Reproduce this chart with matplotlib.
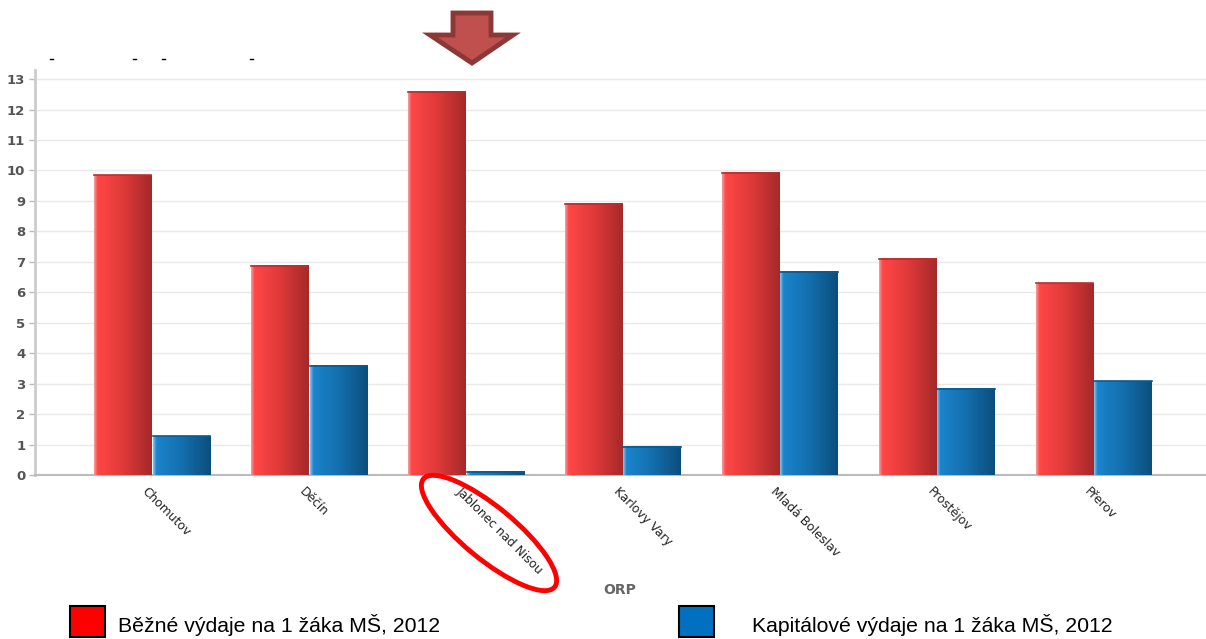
import numpy as np
import matplotlib
matplotlib.use("Agg")
import matplotlib.pyplot as plt
from matplotlib.colors import LinearSegmentedColormap
from matplotlib.patches import Ellipse, Polygon, Rectangle
from matplotlib.transforms import Affine2D, ScaledTranslation

categories = ["Chomutov", "Děčín", "Jablonec nad Nisou", "Karlovy Vary",
              "Mladá Boleslav", "Prostějov", "Přerov"]
bezne = [9.85, 6.87, 12.58, 8.9, 9.92, 7.1, 6.3]
kapitalove = [1.28, 3.58, 0.1, 0.92, 6.67, 2.83, 3.08]
yticks = list(range(0, 14))
legend_labels = ["Běžné výdaje na 1 žáka MŠ, 2012", "Kapitálové výdaje na 1 žáka MŠ, 2012"]
xlabel = "ORP"

fig = plt.figure(figsize=(12.06, 6.39), dpi=100)
ax = fig.add_axes([35/1206, 1-475/639, 1-35/1206, (475-70)/639])

x = np.arange(len(categories))
w = 0.375
red_cmap = LinearSegmentedColormap.from_list("r", [(0, "#f5a0a0"), (0.06, "#ff4747"), (0.5, "#e03939"), (1, "#a52929")])
blue_cmap = LinearSegmentedColormap.from_list("b", [(0, "#8cc2ea"), (0.06, "#1b84cc"), (0.5, "#136fae"), (1, "#0b4e7c")])
grad = np.linspace(0, 1, 256).reshape(1, -1)

b1 = ax.bar(x - w/2, bezne, w, color="none", edgecolor="none", zorder=3)
b2 = ax.bar(x + w/2, kapitalove, w, color="none", edgecolor="none", zorder=3)
for bars, cmap, topc in ((b1, red_cmap, "#b83030"), (b2, blue_cmap, "#0c5a8c")):
    for r in bars:
        x0, x1 = r.get_x(), r.get_x() + r.get_width()
        h = r.get_height()
        ax.imshow(grad, cmap=cmap, extent=[x0 + 0.004, x1 - 0.004, 0, h], aspect="auto",
                  zorder=3, interpolation="bilinear")
        ax.plot([x0 + 0.004, x1 - 0.004], [h, h], color=topc, lw=1.2, zorder=4)

ax.set_xlim(-0.745, 6.715)
ax.set_ylim(0, 13.3)
ax.set_yticks(yticks)
ax.set_yticklabels([str(t) for t in yticks], fontsize=9.5, fontweight="bold", color="#555555")
ax.yaxis.grid(True, color="#e9e9e9", lw=1, zorder=0)
ax.set_axisbelow(True)
ax.tick_params(axis="y", length=4, width=1, color="#bbbbbb", pad=3)
ax.set_xticks(x)
ax.set_xticklabels(categories, rotation=-45, ha="left", va="top", rotation_mode="anchor",
                   fontsize=8.8, color="#222222")
ax.tick_params(axis="x", length=0, pad=7)
for lab in ax.get_xticklabels():
    lab.set_transform(lab.get_transform() + ScaledTranslation(-0.03, 0, fig.dpi_scale_trans))
for s in ("top", "right"):
    ax.spines[s].set_visible(False)
ax.spines["left"].set_color("#cccccc")
ax.spines["left"].set_linewidth(2)
ax.spines["bottom"].set_color("#bbbbbb")
ax.spines["bottom"].set_linewidth(1.5)

fig.text(620/1206, 1-590/639, xlabel, fontsize=10, fontweight="bold", color="#666666",
         ha="center", va="center")

# legend
for px, lab, col, tx in ((70, legend_labels[0], "#ff0000", 118), (679, legend_labels[1], "#0070c0", 752)):
    fig.patches.append(Rectangle((px/1206, 1-637/639), 35/1206, 31/639, transform=fig.transFigure,
                                 facecolor=col, edgecolor="black", lw=1.5))
    fig.text(tx/1206, 1-625/639, lab, fontsize=15.3, family="Liberation Sans", color="black",
             ha="left", va="center")

# arrow
pts = [(453, 13), (491, 13), (491, 35), (513, 35), (472, 63), (430, 35), (453, 35)]
fig.patches.append(Polygon([(px/1206, 1-py/639) for px, py in pts], closed=True,
                           transform=fig.transFigure, facecolor="#c0504d", edgecolor="#8c3836", lw=3.5,
                           joinstyle="miter"))

# ellipse
e = Ellipse((489, 639-533), 170, 52, angle=-39.5, fill=False, edgecolor="#ff0000", lw=3.5,
            transform=Affine2D().scale(1/1206, 1/639) + fig.transFigure)
fig.patches.append(e)

# small dash artifacts at top-left
for px in (50, 133, 162, 250):
    fig.lines.append(plt.Line2D([px/1206, (px+3)/1206], [1-59/639, 1-59/639], transform=fig.transFigure,
                                color="black", lw=1))

fig.savefig("out.png", dpi=100)
